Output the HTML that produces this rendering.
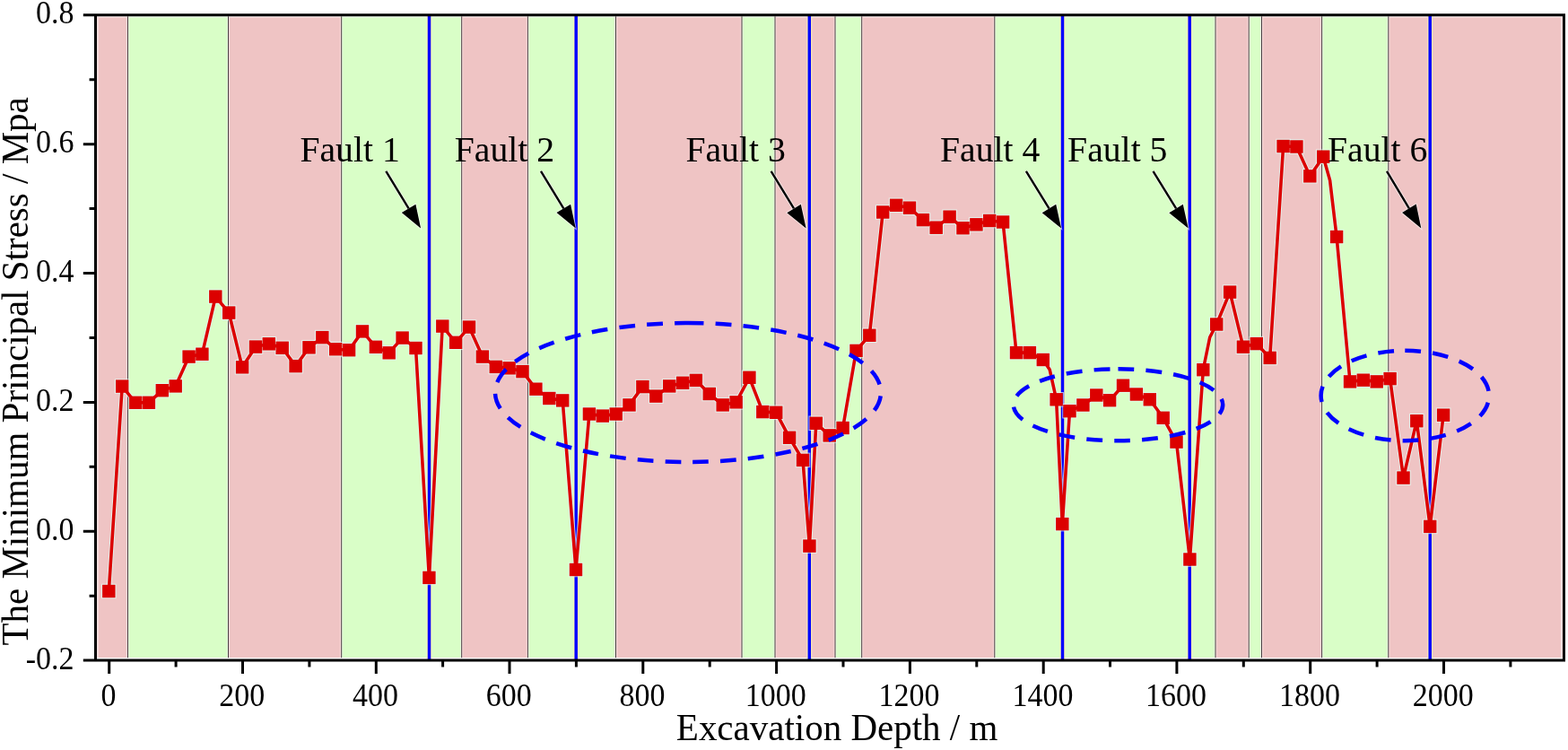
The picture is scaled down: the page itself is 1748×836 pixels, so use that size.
<!DOCTYPE html>
<html lang="en"><head><meta charset="utf-8"><title>Minimum Principal Stress vs Excavation Depth</title>
<style>html,body{margin:0;padding:0;background:#fff}body{width:1748px;height:836px;overflow:hidden}svg{display:block}text{font-family:"Liberation Serif","Times New Roman",serif;fill:#000}</style></head><body>
<svg width="1748" height="836" viewBox="0 0 1748 836">
<rect width="1748" height="836" fill="#fff"/>
<g>
<rect x="107" y="18.5" width="35.5" height="714.6" fill="#f9dddd"/>
<rect x="142.5" y="18.5" width="112.0" height="714.6" fill="#e7ffdf"/>
<rect x="254.5" y="18.5" width="126.2" height="714.6" fill="#f9dddd"/>
<rect x="380.7" y="18.5" width="134.0" height="714.6" fill="#e7ffdf"/>
<rect x="514.7" y="18.5" width="73.7" height="714.6" fill="#f9dddd"/>
<rect x="588.4" y="18.5" width="98.1" height="714.6" fill="#e7ffdf"/>
<rect x="686.5" y="18.5" width="140.5" height="714.6" fill="#f9dddd"/>
<rect x="827" y="18.5" width="37.0" height="714.6" fill="#e7ffdf"/>
<rect x="864" y="18.5" width="67.0" height="714.6" fill="#f9dddd"/>
<rect x="931" y="18.5" width="29.7" height="714.6" fill="#e7ffdf"/>
<rect x="960.7" y="18.5" width="148.1" height="714.6" fill="#f9dddd"/>
<rect x="1108.8" y="18.5" width="246.2" height="714.6" fill="#e7ffdf"/>
<rect x="1355" y="18.5" width="37.2" height="714.6" fill="#f9dddd"/>
<rect x="1392.2" y="18.5" width="14.3" height="714.6" fill="#e7ffdf"/>
<rect x="1406.5" y="18.5" width="67.1" height="714.6" fill="#f9dddd"/>
<rect x="1473.6" y="18.5" width="74.2" height="714.6" fill="#e7ffdf"/>
<rect x="1547.8" y="18.5" width="195.2" height="714.6" fill="#f9dddd"/>
<rect x="110.0" y="19.9" width="30.9" height="713.0" fill="#efc4c4"/>
<rect x="144.1" y="19.9" width="108.8" height="713.0" fill="#d9fec7"/>
<rect x="256.1" y="19.9" width="123.0" height="713.0" fill="#efc4c4"/>
<rect x="382.3" y="19.9" width="130.8" height="713.0" fill="#d9fec7"/>
<rect x="516.3" y="19.9" width="70.5" height="713.0" fill="#efc4c4"/>
<rect x="590.0" y="19.9" width="94.9" height="713.0" fill="#d9fec7"/>
<rect x="688.1" y="19.9" width="137.3" height="713.0" fill="#efc4c4"/>
<rect x="828.6" y="19.9" width="33.8" height="713.0" fill="#d9fec7"/>
<rect x="865.6" y="19.9" width="63.8" height="713.0" fill="#efc4c4"/>
<rect x="932.6" y="19.9" width="26.5" height="713.0" fill="#d9fec7"/>
<rect x="962.3" y="19.9" width="144.9" height="713.0" fill="#efc4c4"/>
<rect x="1110.4" y="19.9" width="243.0" height="713.0" fill="#d9fec7"/>
<rect x="1356.6" y="19.9" width="34.0" height="713.0" fill="#efc4c4"/>
<rect x="1393.8" y="19.9" width="11.1" height="713.0" fill="#d9fec7"/>
<rect x="1408.1" y="19.9" width="63.9" height="713.0" fill="#efc4c4"/>
<rect x="1475.2" y="19.9" width="71.0" height="713.0" fill="#d9fec7"/>
<rect x="1549.4" y="19.9" width="190.4" height="713.0" fill="#efc4c4"/>
</g>
<g stroke="#4a3a40" stroke-width="1">
<line x1="142.5" y1="18.3" x2="142.5" y2="733.2"/>
<line x1="254.5" y1="18.3" x2="254.5" y2="733.2"/>
<line x1="380.7" y1="18.3" x2="380.7" y2="733.2"/>
<line x1="514.7" y1="18.3" x2="514.7" y2="733.2"/>
<line x1="588.4" y1="18.3" x2="588.4" y2="733.2"/>
<line x1="686.5" y1="18.3" x2="686.5" y2="733.2"/>
<line x1="827" y1="18.3" x2="827" y2="733.2"/>
<line x1="864" y1="18.3" x2="864" y2="733.2"/>
<line x1="931" y1="18.3" x2="931" y2="733.2"/>
<line x1="960.7" y1="18.3" x2="960.7" y2="733.2"/>
<line x1="1108.8" y1="18.3" x2="1108.8" y2="733.2"/>
<line x1="1355" y1="18.3" x2="1355" y2="733.2"/>
<line x1="1392.2" y1="18.3" x2="1392.2" y2="733.2"/>
<line x1="1406.5" y1="18.3" x2="1406.5" y2="733.2"/>
<line x1="1473.6" y1="18.3" x2="1473.6" y2="733.2"/>
<line x1="1547.8" y1="18.3" x2="1547.8" y2="733.2"/>
</g>
<g stroke="#fff6b0" stroke-opacity="0.8" stroke-width="6">
<line x1="478.5" y1="18.35" x2="478.5" y2="734.55"/>
<line x1="642.2" y1="18.35" x2="642.2" y2="734.55"/>
<line x1="902.3" y1="18.35" x2="902.3" y2="734.55"/>
<line x1="1184.5" y1="18.35" x2="1184.5" y2="734.55"/>
<line x1="1326.2" y1="18.35" x2="1326.2" y2="734.55"/>
<line x1="1594.2" y1="18.35" x2="1594.2" y2="734.55"/>
</g>
<g stroke="#0000ff" stroke-width="3.5">
<line x1="478.5" y1="16.85" x2="478.5" y2="736.05"/>
<line x1="642.2" y1="16.85" x2="642.2" y2="736.05"/>
<line x1="902.3" y1="16.85" x2="902.3" y2="736.05"/>
<line x1="1184.5" y1="16.85" x2="1184.5" y2="736.05"/>
<line x1="1326.2" y1="16.85" x2="1326.2" y2="736.05"/>
<line x1="1594.2" y1="16.85" x2="1594.2" y2="736.05"/>
</g>
<polyline points="121.3,659.0 136.2,430.6 151.1,448.8 165.9,448.8 180.8,435.2 195.7,430.4 210.6,397.6 225.4,394.7 240.3,330.6 255.2,348.6 270.1,409.3 285.0,386.6 299.8,383.3 314.7,387.8 329.6,408.1 344.5,387.3 359.3,376.1 374.2,389.2 389.1,390.2 404.0,369.4 418.9,386.8 433.7,393.3 448.6,376.6 463.5,388.0 478.4,643.9 493.2,363.6 508.1,381.8 523.0,364.6 537.9,397.6 552.8,408.9 567.6,410.3 582.5,414.1 597.4,433.7 612.3,444.0 627.2,446.4 642.0,635.0 656.9,461.5 671.8,463.6 686.7,461.5 701.5,451.4 716.4,431.1 731.3,441.6 746.2,430.4 761.1,426.8 775.9,423.9 790.8,439.0 805.7,451.4 820.6,448.3 835.4,420.8 850.3,459.1 865.2,459.8 880.1,487.8 895.0,512.9 902.4,608.6 909.8,471.8 924.7,485.4 939.6,477.0 954.5,390.9 969.3,373.8 984.2,236.5 999.1,228.8 1014.0,231.7 1028.9,245.1 1043.7,253.7 1058.6,241.7 1073.5,254.2 1088.4,250.3 1103.2,246.0 1118.1,247.5 1133.0,393.1 1147.9,393.1 1162.8,401.0 1170.2,412.0 1177.6,445.3 1184.3,584.1 1192.5,458.2 1207.4,451.5 1222.3,440.5 1237.1,446.2 1252.0,429.7 1266.9,439.5 1281.8,445.3 1296.7,465.8 1311.5,492.6 1326.4,623.5 1341.3,412.2 1348.7,376.0 1356.2,361.5 1371.1,325.6 1385.9,386.7 1400.8,383.1 1415.7,398.9 1430.6,163.0 1445.4,163.5 1460.3,196.3 1475.2,174.7 1482.6,201.0 1490.1,264.0 1505.0,425.4 1519.8,423.7 1534.7,425.4 1549.6,422.1 1564.5,532.6 1579.3,469.2 1594.2,586.9 1609.1,462.7" fill="none" stroke="#e2fff8" stroke-opacity="0.7" stroke-width="5.6" stroke-linejoin="round"/>
<g fill="none" stroke="#e2fff8" stroke-opacity="0.7" stroke-width="1.2">
<rect x="113.6" y="651.3" width="15.4" height="15.4"/>
<rect x="128.5" y="422.9" width="15.4" height="15.4"/>
<rect x="143.4" y="441.1" width="15.4" height="15.4"/>
<rect x="158.2" y="441.1" width="15.4" height="15.4"/>
<rect x="173.1" y="427.5" width="15.4" height="15.4"/>
<rect x="188.0" y="422.7" width="15.4" height="15.4"/>
<rect x="202.9" y="389.9" width="15.4" height="15.4"/>
<rect x="217.7" y="387.0" width="15.4" height="15.4"/>
<rect x="232.6" y="322.9" width="15.4" height="15.4"/>
<rect x="247.5" y="340.9" width="15.4" height="15.4"/>
<rect x="262.4" y="401.6" width="15.4" height="15.4"/>
<rect x="277.3" y="378.9" width="15.4" height="15.4"/>
<rect x="292.1" y="375.6" width="15.4" height="15.4"/>
<rect x="307.0" y="380.1" width="15.4" height="15.4"/>
<rect x="321.9" y="400.4" width="15.4" height="15.4"/>
<rect x="336.8" y="379.6" width="15.4" height="15.4"/>
<rect x="351.6" y="368.4" width="15.4" height="15.4"/>
<rect x="366.5" y="381.5" width="15.4" height="15.4"/>
<rect x="381.4" y="382.5" width="15.4" height="15.4"/>
<rect x="396.3" y="361.7" width="15.4" height="15.4"/>
<rect x="411.2" y="379.1" width="15.4" height="15.4"/>
<rect x="426.0" y="385.6" width="15.4" height="15.4"/>
<rect x="440.9" y="368.9" width="15.4" height="15.4"/>
<rect x="455.8" y="380.3" width="15.4" height="15.4"/>
<rect x="470.7" y="636.2" width="15.4" height="15.4"/>
<rect x="485.6" y="355.9" width="15.4" height="15.4"/>
<rect x="500.4" y="374.1" width="15.4" height="15.4"/>
<rect x="515.3" y="356.9" width="15.4" height="15.4"/>
<rect x="530.2" y="389.9" width="15.4" height="15.4"/>
<rect x="545.1" y="401.2" width="15.4" height="15.4"/>
<rect x="559.9" y="402.6" width="15.4" height="15.4"/>
<rect x="574.8" y="406.4" width="15.4" height="15.4"/>
<rect x="589.7" y="426.0" width="15.4" height="15.4"/>
<rect x="604.6" y="436.3" width="15.4" height="15.4"/>
<rect x="619.5" y="438.7" width="15.4" height="15.4"/>
<rect x="634.3" y="627.3" width="15.4" height="15.4"/>
<rect x="649.2" y="453.8" width="15.4" height="15.4"/>
<rect x="664.1" y="455.9" width="15.4" height="15.4"/>
<rect x="679.0" y="453.8" width="15.4" height="15.4"/>
<rect x="693.8" y="443.7" width="15.4" height="15.4"/>
<rect x="708.7" y="423.4" width="15.4" height="15.4"/>
<rect x="723.6" y="433.9" width="15.4" height="15.4"/>
<rect x="738.5" y="422.7" width="15.4" height="15.4"/>
<rect x="753.4" y="419.1" width="15.4" height="15.4"/>
<rect x="768.2" y="416.2" width="15.4" height="15.4"/>
<rect x="783.1" y="431.3" width="15.4" height="15.4"/>
<rect x="798.0" y="443.7" width="15.4" height="15.4"/>
<rect x="812.9" y="440.6" width="15.4" height="15.4"/>
<rect x="827.7" y="413.1" width="15.4" height="15.4"/>
<rect x="842.6" y="451.4" width="15.4" height="15.4"/>
<rect x="857.5" y="452.1" width="15.4" height="15.4"/>
<rect x="872.4" y="480.1" width="15.4" height="15.4"/>
<rect x="887.3" y="505.2" width="15.4" height="15.4"/>
<rect x="894.7" y="600.9" width="15.4" height="15.4"/>
<rect x="902.1" y="464.1" width="15.4" height="15.4"/>
<rect x="917.0" y="477.7" width="15.4" height="15.4"/>
<rect x="931.9" y="469.3" width="15.4" height="15.4"/>
<rect x="946.8" y="383.2" width="15.4" height="15.4"/>
<rect x="961.6" y="366.1" width="15.4" height="15.4"/>
<rect x="976.5" y="228.8" width="15.4" height="15.4"/>
<rect x="991.4" y="221.1" width="15.4" height="15.4"/>
<rect x="1006.3" y="224.0" width="15.4" height="15.4"/>
<rect x="1021.2" y="237.4" width="15.4" height="15.4"/>
<rect x="1036.0" y="246.0" width="15.4" height="15.4"/>
<rect x="1050.9" y="234.0" width="15.4" height="15.4"/>
<rect x="1065.8" y="246.5" width="15.4" height="15.4"/>
<rect x="1080.7" y="242.6" width="15.4" height="15.4"/>
<rect x="1095.5" y="238.3" width="15.4" height="15.4"/>
<rect x="1110.4" y="239.8" width="15.4" height="15.4"/>
<rect x="1125.3" y="385.4" width="15.4" height="15.4"/>
<rect x="1140.2" y="385.4" width="15.4" height="15.4"/>
<rect x="1155.1" y="393.3" width="15.4" height="15.4"/>
<rect x="1169.9" y="437.6" width="15.4" height="15.4"/>
<rect x="1176.6" y="576.4" width="15.4" height="15.4"/>
<rect x="1184.8" y="450.5" width="15.4" height="15.4"/>
<rect x="1199.7" y="443.8" width="15.4" height="15.4"/>
<rect x="1214.6" y="432.8" width="15.4" height="15.4"/>
<rect x="1229.4" y="438.5" width="15.4" height="15.4"/>
<rect x="1244.3" y="422.0" width="15.4" height="15.4"/>
<rect x="1259.2" y="431.8" width="15.4" height="15.4"/>
<rect x="1274.1" y="437.6" width="15.4" height="15.4"/>
<rect x="1289.0" y="458.1" width="15.4" height="15.4"/>
<rect x="1303.8" y="484.9" width="15.4" height="15.4"/>
<rect x="1318.7" y="615.8" width="15.4" height="15.4"/>
<rect x="1333.6" y="404.5" width="15.4" height="15.4"/>
<rect x="1348.5" y="353.8" width="15.4" height="15.4"/>
<rect x="1363.4" y="317.9" width="15.4" height="15.4"/>
<rect x="1378.2" y="379.0" width="15.4" height="15.4"/>
<rect x="1393.1" y="375.4" width="15.4" height="15.4"/>
<rect x="1408.0" y="391.2" width="15.4" height="15.4"/>
<rect x="1422.9" y="155.3" width="15.4" height="15.4"/>
<rect x="1437.7" y="155.8" width="15.4" height="15.4"/>
<rect x="1452.6" y="188.6" width="15.4" height="15.4"/>
<rect x="1467.5" y="167.0" width="15.4" height="15.4"/>
<rect x="1482.4" y="256.3" width="15.4" height="15.4"/>
<rect x="1497.3" y="417.7" width="15.4" height="15.4"/>
<rect x="1512.1" y="416.0" width="15.4" height="15.4"/>
<rect x="1527.0" y="417.7" width="15.4" height="15.4"/>
<rect x="1541.9" y="414.4" width="15.4" height="15.4"/>
<rect x="1556.8" y="524.9" width="15.4" height="15.4"/>
<rect x="1571.6" y="461.5" width="15.4" height="15.4"/>
<rect x="1586.5" y="579.2" width="15.4" height="15.4"/>
<rect x="1601.4" y="455.0" width="15.4" height="15.4"/>
</g>
<polyline points="121.3,659.0 136.2,430.6 151.1,448.8 165.9,448.8 180.8,435.2 195.7,430.4 210.6,397.6 225.4,394.7 240.3,330.6 255.2,348.6 270.1,409.3 285.0,386.6 299.8,383.3 314.7,387.8 329.6,408.1 344.5,387.3 359.3,376.1 374.2,389.2 389.1,390.2 404.0,369.4 418.9,386.8 433.7,393.3 448.6,376.6 463.5,388.0 478.4,643.9 493.2,363.6 508.1,381.8 523.0,364.6 537.9,397.6 552.8,408.9 567.6,410.3 582.5,414.1 597.4,433.7 612.3,444.0 627.2,446.4 642.0,635.0 656.9,461.5 671.8,463.6 686.7,461.5 701.5,451.4 716.4,431.1 731.3,441.6 746.2,430.4 761.1,426.8 775.9,423.9 790.8,439.0 805.7,451.4 820.6,448.3 835.4,420.8 850.3,459.1 865.2,459.8 880.1,487.8 895.0,512.9 902.4,608.6 909.8,471.8 924.7,485.4 939.6,477.0 954.5,390.9 969.3,373.8 984.2,236.5 999.1,228.8 1014.0,231.7 1028.9,245.1 1043.7,253.7 1058.6,241.7 1073.5,254.2 1088.4,250.3 1103.2,246.0 1118.1,247.5 1133.0,393.1 1147.9,393.1 1162.8,401.0 1170.2,412.0 1177.6,445.3 1184.3,584.1 1192.5,458.2 1207.4,451.5 1222.3,440.5 1237.1,446.2 1252.0,429.7 1266.9,439.5 1281.8,445.3 1296.7,465.8 1311.5,492.6 1326.4,623.5 1341.3,412.2 1348.7,376.0 1356.2,361.5 1371.1,325.6 1385.9,386.7 1400.8,383.1 1415.7,398.9 1430.6,163.0 1445.4,163.5 1460.3,196.3 1475.2,174.7 1482.6,201.0 1490.1,264.0 1505.0,425.4 1519.8,423.7 1534.7,425.4 1549.6,422.1 1564.5,532.6 1579.3,469.2 1594.2,586.9 1609.1,462.7" fill="none" stroke="#dc0000" stroke-width="3.6" stroke-linejoin="round"/>
<g fill="#dc0000">
<rect x="114.1" y="651.8" width="14.4" height="14.4"/>
<rect x="129.0" y="423.4" width="14.4" height="14.4"/>
<rect x="143.9" y="441.6" width="14.4" height="14.4"/>
<rect x="158.7" y="441.6" width="14.4" height="14.4"/>
<rect x="173.6" y="428.0" width="14.4" height="14.4"/>
<rect x="188.5" y="423.2" width="14.4" height="14.4"/>
<rect x="203.4" y="390.4" width="14.4" height="14.4"/>
<rect x="218.2" y="387.5" width="14.4" height="14.4"/>
<rect x="233.1" y="323.4" width="14.4" height="14.4"/>
<rect x="248.0" y="341.4" width="14.4" height="14.4"/>
<rect x="262.9" y="402.1" width="14.4" height="14.4"/>
<rect x="277.8" y="379.4" width="14.4" height="14.4"/>
<rect x="292.6" y="376.1" width="14.4" height="14.4"/>
<rect x="307.5" y="380.6" width="14.4" height="14.4"/>
<rect x="322.4" y="400.9" width="14.4" height="14.4"/>
<rect x="337.3" y="380.1" width="14.4" height="14.4"/>
<rect x="352.1" y="368.9" width="14.4" height="14.4"/>
<rect x="367.0" y="382.0" width="14.4" height="14.4"/>
<rect x="381.9" y="383.0" width="14.4" height="14.4"/>
<rect x="396.8" y="362.2" width="14.4" height="14.4"/>
<rect x="411.7" y="379.6" width="14.4" height="14.4"/>
<rect x="426.5" y="386.1" width="14.4" height="14.4"/>
<rect x="441.4" y="369.4" width="14.4" height="14.4"/>
<rect x="456.3" y="380.8" width="14.4" height="14.4"/>
<rect x="471.2" y="636.7" width="14.4" height="14.4"/>
<rect x="486.1" y="356.4" width="14.4" height="14.4"/>
<rect x="500.9" y="374.6" width="14.4" height="14.4"/>
<rect x="515.8" y="357.4" width="14.4" height="14.4"/>
<rect x="530.7" y="390.4" width="14.4" height="14.4"/>
<rect x="545.6" y="401.7" width="14.4" height="14.4"/>
<rect x="560.4" y="403.1" width="14.4" height="14.4"/>
<rect x="575.3" y="406.9" width="14.4" height="14.4"/>
<rect x="590.2" y="426.5" width="14.4" height="14.4"/>
<rect x="605.1" y="436.8" width="14.4" height="14.4"/>
<rect x="620.0" y="439.2" width="14.4" height="14.4"/>
<rect x="634.8" y="627.8" width="14.4" height="14.4"/>
<rect x="649.7" y="454.3" width="14.4" height="14.4"/>
<rect x="664.6" y="456.4" width="14.4" height="14.4"/>
<rect x="679.5" y="454.3" width="14.4" height="14.4"/>
<rect x="694.3" y="444.2" width="14.4" height="14.4"/>
<rect x="709.2" y="423.9" width="14.4" height="14.4"/>
<rect x="724.1" y="434.4" width="14.4" height="14.4"/>
<rect x="739.0" y="423.2" width="14.4" height="14.4"/>
<rect x="753.9" y="419.6" width="14.4" height="14.4"/>
<rect x="768.7" y="416.7" width="14.4" height="14.4"/>
<rect x="783.6" y="431.8" width="14.4" height="14.4"/>
<rect x="798.5" y="444.2" width="14.4" height="14.4"/>
<rect x="813.4" y="441.1" width="14.4" height="14.4"/>
<rect x="828.2" y="413.6" width="14.4" height="14.4"/>
<rect x="843.1" y="451.9" width="14.4" height="14.4"/>
<rect x="858.0" y="452.6" width="14.4" height="14.4"/>
<rect x="872.9" y="480.6" width="14.4" height="14.4"/>
<rect x="887.8" y="505.7" width="14.4" height="14.4"/>
<rect x="895.2" y="601.4" width="14.4" height="14.4"/>
<rect x="902.6" y="464.6" width="14.4" height="14.4"/>
<rect x="917.5" y="478.2" width="14.4" height="14.4"/>
<rect x="932.4" y="469.8" width="14.4" height="14.4"/>
<rect x="947.3" y="383.7" width="14.4" height="14.4"/>
<rect x="962.1" y="366.6" width="14.4" height="14.4"/>
<rect x="977.0" y="229.3" width="14.4" height="14.4"/>
<rect x="991.9" y="221.6" width="14.4" height="14.4"/>
<rect x="1006.8" y="224.5" width="14.4" height="14.4"/>
<rect x="1021.7" y="237.9" width="14.4" height="14.4"/>
<rect x="1036.5" y="246.5" width="14.4" height="14.4"/>
<rect x="1051.4" y="234.5" width="14.4" height="14.4"/>
<rect x="1066.3" y="247.0" width="14.4" height="14.4"/>
<rect x="1081.2" y="243.1" width="14.4" height="14.4"/>
<rect x="1096.0" y="238.8" width="14.4" height="14.4"/>
<rect x="1110.9" y="240.3" width="14.4" height="14.4"/>
<rect x="1125.8" y="385.9" width="14.4" height="14.4"/>
<rect x="1140.7" y="385.9" width="14.4" height="14.4"/>
<rect x="1155.6" y="393.8" width="14.4" height="14.4"/>
<rect x="1170.4" y="438.1" width="14.4" height="14.4"/>
<rect x="1177.1" y="576.9" width="14.4" height="14.4"/>
<rect x="1185.3" y="451.0" width="14.4" height="14.4"/>
<rect x="1200.2" y="444.3" width="14.4" height="14.4"/>
<rect x="1215.1" y="433.3" width="14.4" height="14.4"/>
<rect x="1229.9" y="439.0" width="14.4" height="14.4"/>
<rect x="1244.8" y="422.5" width="14.4" height="14.4"/>
<rect x="1259.7" y="432.3" width="14.4" height="14.4"/>
<rect x="1274.6" y="438.1" width="14.4" height="14.4"/>
<rect x="1289.5" y="458.6" width="14.4" height="14.4"/>
<rect x="1304.3" y="485.4" width="14.4" height="14.4"/>
<rect x="1319.2" y="616.3" width="14.4" height="14.4"/>
<rect x="1334.1" y="405.0" width="14.4" height="14.4"/>
<rect x="1349.0" y="354.3" width="14.4" height="14.4"/>
<rect x="1363.9" y="318.4" width="14.4" height="14.4"/>
<rect x="1378.7" y="379.5" width="14.4" height="14.4"/>
<rect x="1393.6" y="375.9" width="14.4" height="14.4"/>
<rect x="1408.5" y="391.7" width="14.4" height="14.4"/>
<rect x="1423.4" y="155.8" width="14.4" height="14.4"/>
<rect x="1438.2" y="156.3" width="14.4" height="14.4"/>
<rect x="1453.1" y="189.1" width="14.4" height="14.4"/>
<rect x="1468.0" y="167.5" width="14.4" height="14.4"/>
<rect x="1482.9" y="256.8" width="14.4" height="14.4"/>
<rect x="1497.8" y="418.2" width="14.4" height="14.4"/>
<rect x="1512.6" y="416.5" width="14.4" height="14.4"/>
<rect x="1527.5" y="418.2" width="14.4" height="14.4"/>
<rect x="1542.4" y="414.9" width="14.4" height="14.4"/>
<rect x="1557.3" y="525.4" width="14.4" height="14.4"/>
<rect x="1572.1" y="462.0" width="14.4" height="14.4"/>
<rect x="1587.0" y="579.7" width="14.4" height="14.4"/>
<rect x="1601.9" y="455.5" width="14.4" height="14.4"/>
</g>
<g fill="none" stroke="#0000ff" stroke-width="4.5">
<path d="M767 360.0 A215 77.5 0 0 1 767 515.0 A215 77.5 0 0 1 767 360.0" stroke-dasharray="17.71 13.09"/>
<path d="M1246.5 411.3 A116.7 40 0 0 1 1246.5 491.3 A116.7 40 0 0 1 1246.5 411.3" stroke-dasharray="17.79 13.15"/>
<path d="M1566.3 390.8 A93.7 50.2 0 0 1 1566.3 491.2 A93.7 50.2 0 0 1 1566.3 390.8" stroke-dasharray="17.73 13.10"/>
</g>
<g stroke="#000" stroke-width="3" fill="none" stroke-linecap="butt">
<path d="M92.8 16.85 H1745 M1743.5 15.350000000000001 V737.55 M92.8 736.05 H1745 M106.5 15.350000000000001 V737.55"/>
<path d="M121.7 736.05 V751 M270.5 736.05 V751 M419.3 736.05 V751 M568.0 736.05 V751 M716.8 736.05 V751 M865.6 736.05 V751 M1014.4 736.05 V751 M1163.2 736.05 V751 M1311.9 736.05 V751 M1460.7 736.05 V751 M1609.5 736.05 V751 M196.1 736.05 V743.5 M344.9 736.05 V743.5 M493.6 736.05 V743.5 M642.4 736.05 V743.5 M791.2 736.05 V743.5 M940.0 736.05 V743.5 M1088.8 736.05 V743.5 M1237.5 736.05 V743.5 M1386.3 736.05 V743.5 M1535.1 736.05 V743.5 M1683.9 736.05 V743.5 M92.8 160.7 H106.5 M92.8 304.6 H106.5 M92.8 448.4 H106.5 M92.8 592.2 H106.5 M99.6 88.8 H106.5 M99.6 232.6 H106.5 M99.6 376.5 H106.5 M99.6 520.3 H106.5 M99.6 664.2 H106.5"/>
</g>
<g font-size="34px">
<text transform="translate(120.9 786.5) scale(1 1.075)" text-anchor="middle">0</text>
<text transform="translate(269.7 786.5) scale(1 1.075)" text-anchor="middle">200</text>
<text transform="translate(418.5 786.5) scale(1 1.075)" text-anchor="middle">400</text>
<text transform="translate(567.2 786.5) scale(1 1.075)" text-anchor="middle">600</text>
<text transform="translate(716.0 786.5) scale(1 1.075)" text-anchor="middle">800</text>
<text transform="translate(864.8 786.5) scale(1 1.075)" text-anchor="middle">1000</text>
<text transform="translate(1013.6 786.5) scale(1 1.075)" text-anchor="middle">1200</text>
<text transform="translate(1162.4 786.5) scale(1 1.075)" text-anchor="middle">1400</text>
<text transform="translate(1311.1 786.5) scale(1 1.075)" text-anchor="middle">1600</text>
<text transform="translate(1459.9 786.5) scale(1 1.075)" text-anchor="middle">1800</text>
<text transform="translate(1608.7 786.5) scale(1 1.075)" text-anchor="middle">2000</text>
<text transform="translate(82.6 26.30) scale(1 1.075)" text-anchor="end">0.8</text>
<text transform="translate(82.6 170.15) scale(1 1.075)" text-anchor="end">0.6</text>
<text transform="translate(82.6 314.00) scale(1 1.075)" text-anchor="end">0.4</text>
<text transform="translate(82.6 457.85) scale(1 1.075)" text-anchor="end">0.2</text>
<text transform="translate(82.6 601.70) scale(1 1.075)" text-anchor="end">0.0</text>
<text transform="translate(82.6 745.55) scale(1 1.075)" text-anchor="end">-0.2</text>
</g>
<text transform="translate(933.1 824.7) scale(1 1.04)" font-size="41px" text-anchor="middle">Excavation Depth / m</text>
<text transform="translate(31.2 413.9) rotate(-90) scale(1 1.04)" font-size="41px" text-anchor="middle">The Minimum Principal Stress / Mpa</text>
<g font-size="39.7px">
<text transform="translate(334.4 180) scale(1 1.03)">Fault 1</text>
<text transform="translate(506.7 180) scale(1 1.03)">Fault 2</text>
<text transform="translate(764.4 180) scale(1 1.03)">Fault 3</text>
<text transform="translate(1048.0 180) scale(1 1.03)">Fault 4</text>
<text transform="translate(1190.1 180) scale(1 1.03)">Fault 5</text>
<text transform="translate(1480.0 180) scale(1 1.03)">Fault 6</text>
</g>
<g stroke="#000" stroke-width="2.4" fill="#000">
<line x1="430.3" y1="190.8" x2="455.6" y2="232.4" stroke="#fff" stroke-opacity="0.6" stroke-width="4.2"/>
<polygon fill="none" stroke="#fff" stroke-opacity="0.6" stroke-width="1.8" points="469.1,254.6 447.8,237.1 463.4,227.7"/>
<line x1="430.3" y1="190.8" x2="455.6" y2="232.4"/>
<polygon stroke="none" points="469.1,254.6 447.8,237.1 463.4,227.7"/>
<line x1="603.0" y1="190.8" x2="628.3" y2="232.4" stroke="#fff" stroke-opacity="0.6" stroke-width="4.2"/>
<polygon fill="none" stroke="#fff" stroke-opacity="0.6" stroke-width="1.8" points="641.8,254.6 620.5,237.1 636.1,227.7"/>
<line x1="603.0" y1="190.8" x2="628.3" y2="232.4"/>
<polygon stroke="none" points="641.8,254.6 620.5,237.1 636.1,227.7"/>
<line x1="859.6" y1="190.8" x2="885.0" y2="232.4" stroke="#fff" stroke-opacity="0.6" stroke-width="4.2"/>
<polygon fill="none" stroke="#fff" stroke-opacity="0.6" stroke-width="1.8" points="898.6,254.6 877.3,237.2 892.8,227.7"/>
<line x1="859.6" y1="190.8" x2="885.0" y2="232.4"/>
<polygon stroke="none" points="898.6,254.6 877.3,237.2 892.8,227.7"/>
<line x1="1143.9" y1="190.8" x2="1169.5" y2="232.4" stroke="#fff" stroke-opacity="0.6" stroke-width="4.2"/>
<polygon fill="none" stroke="#fff" stroke-opacity="0.6" stroke-width="1.8" points="1183.1,254.6 1161.7,237.2 1177.2,227.7"/>
<line x1="1143.9" y1="190.8" x2="1169.5" y2="232.4"/>
<polygon stroke="none" points="1183.1,254.6 1161.7,237.2 1177.2,227.7"/>
<line x1="1285.5" y1="190.8" x2="1311.1" y2="232.4" stroke="#fff" stroke-opacity="0.6" stroke-width="4.2"/>
<polygon fill="none" stroke="#fff" stroke-opacity="0.6" stroke-width="1.8" points="1324.7,254.6 1303.3,237.2 1318.8,227.7"/>
<line x1="1285.5" y1="190.8" x2="1311.1" y2="232.4"/>
<polygon stroke="none" points="1324.7,254.6 1303.3,237.2 1318.8,227.7"/>
<line x1="1546.0" y1="190.8" x2="1570.9" y2="232.3" stroke="#fff" stroke-opacity="0.6" stroke-width="4.2"/>
<polygon fill="none" stroke="#fff" stroke-opacity="0.6" stroke-width="1.8" points="1584.3,254.6 1563.1,237.0 1578.7,227.6"/>
<line x1="1546.0" y1="190.8" x2="1570.9" y2="232.3"/>
<polygon stroke="none" points="1584.3,254.6 1563.1,237.0 1578.7,227.6"/>
</g>
</svg></body></html>
